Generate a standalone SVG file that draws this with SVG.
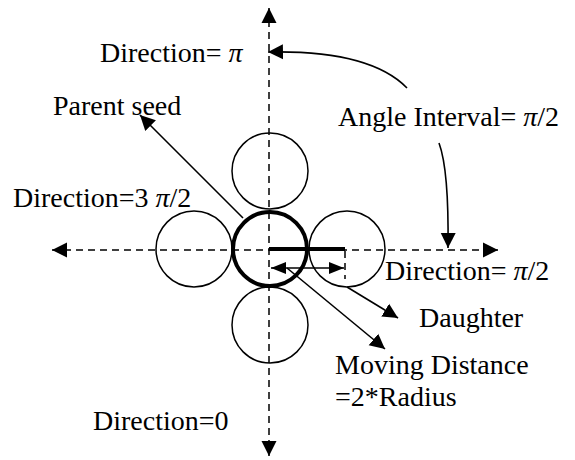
<svg xmlns="http://www.w3.org/2000/svg" width="575" height="460" viewBox="0 0 575 460">
<style>
text{font-family:"Liberation Serif","Times New Roman",serif;font-size:28px;fill:#000}
.pi{font-style:italic}
.dash{stroke:#000;stroke-width:1.5;stroke-dasharray:7 5;fill:none}
.ln{stroke:#000;stroke-width:1.6;fill:none}
.c{stroke:#000;stroke-width:1.5;fill:none}
</style>
<defs>
<marker id="ah" markerUnits="userSpaceOnUse" markerWidth="16" markerHeight="16" viewBox="0 0 16 16" refX="15" refY="8" orient="auto-start-reverse">
<path d="M0,0.5 L15,8 L0,15.5 Z" fill="#000"/>
</marker>
<marker id="ahs" markerUnits="userSpaceOnUse" markerWidth="16" markerHeight="14" viewBox="0 0 16 14" refX="15" refY="7" orient="auto-start-reverse">
<path d="M0,1 L15,7 L0,13 Z" fill="#000"/>
</marker>
</defs>
<g id="seeds">
<g id="parent"><circle cx="270" cy="249" r="37" stroke="#000" stroke-width="4" fill="none"/></g>
<g id="d-top"><circle class="c" cx="270" cy="171" r="38"/></g>
<g id="d-left"><circle class="c" cx="194" cy="249" r="38"/></g>
<g id="d-right"><circle class="c" cx="347" cy="249" r="38"/></g>
<g id="d-bottom"><circle class="c" cx="270" cy="325" r="38"/></g>
</g>
<g id="connectors">
<line class="dash" x1="269" y1="8" x2="269" y2="456" marker-start="url(#ah)" marker-end="url(#ah)"/>
<line class="dash" x1="52" y1="250" x2="498" y2="250" marker-start="url(#ah)" marker-end="url(#ah)"/>
<line x1="269" y1="249" x2="345" y2="249" stroke="#000" stroke-width="4"/>
<line class="dash" x1="345" y1="251" x2="345" y2="279" stroke-dasharray="5 4"/>
<line class="ln" x1="271" y1="268" x2="344" y2="268" marker-start="url(#ahs)" marker-end="url(#ahs)"/>
<line class="ln" x1="243" y1="218" x2="140" y2="115" marker-end="url(#ah)"/>
<line class="ln" x1="347" y1="287" x2="398" y2="318" marker-end="url(#ah)"/>
<line class="ln" x1="287" y1="268" x2="385" y2="349" marker-end="url(#ah)"/>
<path class="ln" d="M407,88 Q370,50 268,52" marker-end="url(#ah)"/>
<path class="ln" d="M439,143 Q449,170 448,248" marker-end="url(#ah)"/>
</g>
<g id="labels">
<text x="100" y="62">Direction= <tspan class="pi">π</tspan></text>
<text x="53" y="115">Parent seed</text>
<text x="338" y="126">Angle Interval= <tspan class="pi">π</tspan>/2</text>
<text x="13" y="207">Direction=3 <tspan class="pi">π</tspan>/2</text>
<text x="385" y="280">Direction= <tspan class="pi">π</tspan>/2</text>
<text x="419" y="327">Daughter</text>
<text x="335" y="374">Moving Distance</text>
<text x="335" y="406">=2*Radius</text>
<text x="93" y="430">Direction=0</text>
</g>
</svg>
